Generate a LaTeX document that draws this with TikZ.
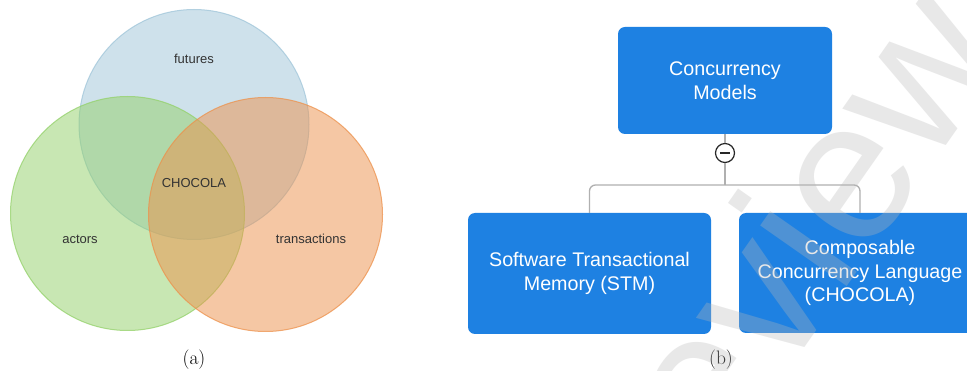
\documentclass[tikz,border=0pt]{standalone}
\usepackage{fontspec}
\newfontfamily\sansfam{Liberation Sans}

\definecolor{vblue}{RGB}{159,197,217}
\definecolor{vgreen}{RGB}{147,209,105}
\definecolor{vorange}{RGB}{237,145,75}
\definecolor{vtext}{RGB}{51,51,51}
\definecolor{boxblue}{RGB}{30,129,226}
\definecolor{linkgray}{RGB}{176,176,176}
\definecolor{togdark}{RGB}{40,40,40}
\definecolor{stampgray}{RGB}{184,184,184}

\newcommand\vennfont{\sansfam\fontsize{13}{15}\selectfont}
\newcommand\boxfont{\sansfam\fontsize{19.7}{23.8}\selectfont}
\newcommand\stampfont{\sansfam\fontsize{200}{220}\selectfont}

\begin{document}
\begin{tikzpicture}[x=1pt,y=-1pt,
  venn/.style={line width=1pt, fill opacity=0.5, draw opacity=0.75},
  vlabel/.style={font=\vennfont, text=vtext, inner sep=0pt},
  model/.style={rectangle, rounded corners=7pt, fill=boxblue, text=white,
    font=\boxfont, align=center, inner sep=0pt},
  link/.style={draw=linkgray, line width=1.3pt, rounded corners=6pt},
  toggle/.style={circle, draw=togdark, fill=white, line width=1.2pt,
    minimum size=19pt, inner sep=0pt,
    path picture={\draw[togdark, line width=1.6pt]
      ([xshift=-5pt]path picture bounding box.center) --
      ([xshift=5pt]path picture bounding box.center);}},
  subcap/.style={font=\fontsize{19.5}{22}\selectfont, inner sep=0pt, anchor=base},
  wmark/.style={font=\stampfont, text=stampgray, text opacity=0.32,
    inner sep=0pt, anchor=base, rotate=55}]

\useasboundingbox (0,0) rectangle (967,371);
\clip (0,0) rectangle (967,371);
\fill[white] (0,0) rectangle (967,371);

% ---- (a) Venn diagram of the three models ----
\path[venn, fill=vblue, draw=vblue]     (194,124.5) circle[radius=115];
\path[venn, fill=vgreen, draw=vgreen]   (127.5,213.5) circle[radius=117];
\path[venn, fill=vorange, draw=vorange] (265.5,214.5) circle[radius=117];

\node[vlabel] (futures) at (194,59) {futures};
\node[vlabel] (chocola) at (194,183) {CHOCOLA};
\node[vlabel] (actors) at (80,239) {actors};
\node[vlabel] (trans) at (311,239) {transactions};

\node[subcap] (capa) at (194,365) {(a)};

% ---- (b) hierarchy of concurrency models ----
\node[model, minimum width=214pt, minimum height=107pt] (top) at (725,80.5)
  {Concurrency\\Models};
\node[model, minimum width=243pt, minimum height=121pt] (stm) at (589.5,273.5)
  {Software Transactional\\Memory (STM)};
\node[model, minimum width=242pt, minimum height=120pt] (ccl) at (860,273)
  {Composable\\Concurrency Language\\(CHOCOLA)};

\node[toggle] (tog) at (725,153) {};
\coordinate (split) at (725,185);

\draw[link] (top.south) -- (tog.north);
\draw[link] (tog.south) -- (split);
\draw[link] (split) -| (stm.north);
\draw[link] (split) -| (ccl.north);

\node[subcap] (capb) at (721,365) {(b)};

% ---- stamp across the right half ----
\node[wmark] (stamp) at (824,320) {Review};
\end{tikzpicture}
\end{document}
